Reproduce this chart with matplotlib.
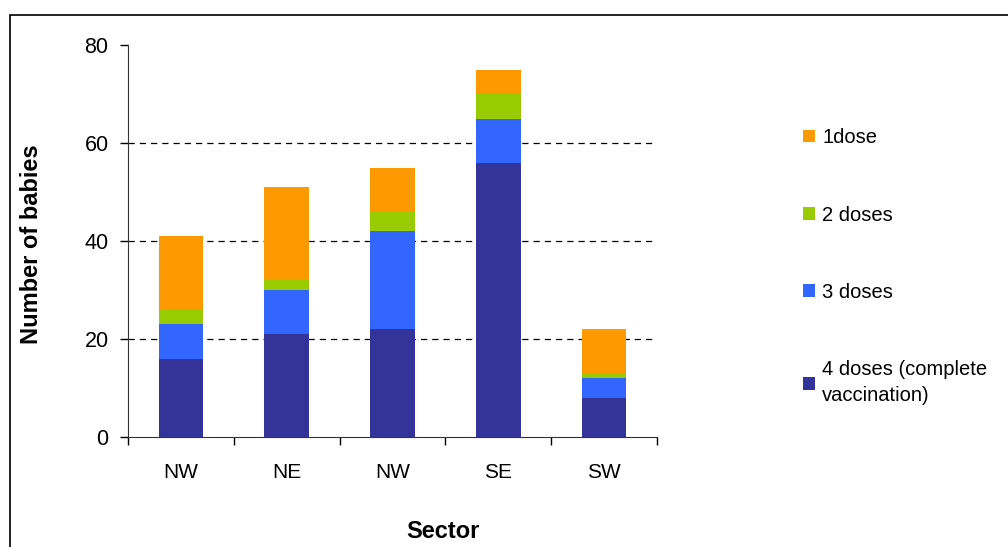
import numpy as np
import matplotlib
matplotlib.use('Agg')
import matplotlib.pyplot as plt
from matplotlib.patches import Rectangle

# data
sectors = ['NW', 'NE', 'NW', 'SE', 'SW']
dose4 = [16, 21, 22, 56, 8]
dose3 = [7, 9, 20, 9, 4]
dose2 = [3, 2, 4, 5, 1]
dose1 = [15, 19, 9, 5, 9]
series_labels = ['4 doses (complete\nvaccination)', '3 doses', '2 doses', '1dose']
colors = ['#333399', '#3366FF', '#99CC00', '#FF9900']

plt.rcParams['font.family'] = ['Liberation Sans', 'DejaVu Sans']

fig = plt.figure(figsize=(10.08, 5.47), dpi=100)
W, H = 1008, 547
ax = fig.add_axes([128 / W, 1 - 437 / H, (657 - 128) / W, (437 - 45) / H])

# chart border
fig.patches.append(Rectangle((10 / W, -0.05), 1.1, 1 - 15 / H + 0.05, transform=fig.transFigure,
                             fill=False, edgecolor='black', linewidth=1.2))

x = np.arange(len(sectors))
bottom = np.zeros(len(sectors))
handles = []
for vals, col, lab in zip([dose4, dose3, dose2, dose1], colors, series_labels):
    b = ax.bar(x, vals, width=0.42, bottom=bottom, color=col, label=lab, zorder=3)
    handles.append(b)
    bottom += np.array(vals)

ax.set_xlim(-0.5, len(sectors) - 0.5)
ax.set_ylim(0, 80)
ax.set_yticks([0, 20, 40, 60, 80])
for g in [20, 40, 60]:
    ax.axhline(g, color='black', linestyle=(0, (5, 4)), linewidth=0.9, zorder=1)

ax.set_xticks(x)
ax.set_xticklabels(sectors)
ax.set_xticks(np.arange(len(sectors) + 1) - 0.5, minor=True)
ax.tick_params(axis='x', which='major', length=0, pad=19, labelsize=15)
ax.tick_params(axis='x', which='minor', length=6, width=1, direction='out')
ax.tick_params(axis='y', length=6, width=1, direction='out', labelsize=15.5, pad=8)

for s in ['top', 'right']:
    ax.spines[s].set_visible(False)
ax.spines['left'].set_color('#333333')
ax.spines['bottom'].set_color('#333333')

fig.text(32 / W, 1 - 244 / H, 'Number of babies', rotation=90, ha='center', va='center',
         fontsize=17, fontweight='bold')
fig.text(443 / W, 1 - 531 / H, 'Sector', ha='center', va='center',
         fontsize=17, fontweight='bold')

leg = fig.legend(handles[::-1], series_labels[::-1], loc='upper left',
                 bbox_to_anchor=(785 / W, 1 - 110 / H), frameon=False, fontsize=14.5,
                 handlelength=0.6, handleheight=0.6, handletextpad=0.35,
                 labelspacing=2.9)
for t in leg.get_texts():
    t.set_linespacing(1.45)

fig.savefig('out.png', dpi=100)
